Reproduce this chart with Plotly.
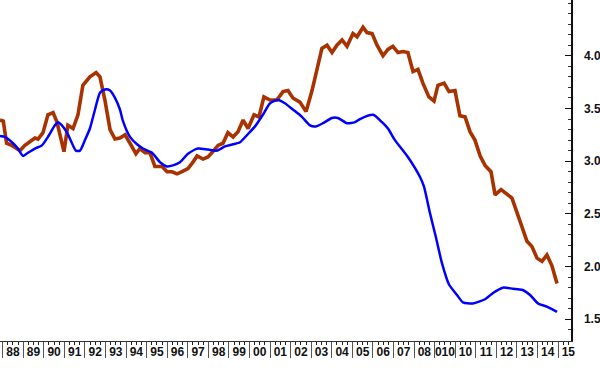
import plotly.graph_objects as go

# ---- data (decimal years, values) ----
red_x = [1987.87, 1988.03, 1988.19, 1988.44, 1988.68, 1988.84, 1989.08, 1989.41, 1989.57, 1989.72,
         1989.96, 1990.20, 1990.45, 1990.64, 1990.83, 1990.98, 1991.17, 1991.42, 1991.66, 1991.90,
         1992.24, 1992.54, 1992.73, 1992.97, 1993.22, 1993.46, 1993.70, 1993.95, 1994.19, 1994.48,
         1994.67, 1994.92, 1995.16, 1995.40, 1995.75, 1995.99, 1996.23, 1996.48, 1996.72, 1997.01,
         1997.25, 1997.45, 1997.74, 1997.98, 1998.22, 1998.47, 1998.71, 1998.95, 1999.20, 1999.44,
         1999.69, 1999.93, 2000.22, 2000.46, 2000.70, 2001.00, 2001.33, 2001.63, 2001.87, 2002.11,
         2002.45, 2002.75, 2003.04, 2003.28, 2003.52, 2003.77, 2004.01, 2004.25, 2004.50, 2004.74,
         2005.03, 2005.23, 2005.52, 2005.71, 2005.96, 2006.20, 2006.49, 2006.73, 2006.97, 2007.22,
         2007.46, 2007.70, 2007.95, 2008.19, 2008.43, 2008.72, 2008.97, 2009.16, 2009.46, 2009.70,
         2009.99, 2010.23, 2010.48, 2010.72, 2010.96, 2011.21, 2011.45, 2011.74, 2011.94, 2012.23,
         2012.47, 2012.76, 2013.01, 2013.25, 2013.49, 2013.73, 2013.98, 2014.22, 2014.46, 2014.70,
         2014.95]
red_y = [3.39, 3.38, 3.17, 3.15, 3.12, 3.10, 3.15, 3.20, 3.22, 3.21,
         3.27, 3.44, 3.46, 3.37, 3.20, 3.09, 3.34, 3.31, 3.44, 3.72,
         3.80, 3.84, 3.80, 3.58, 3.30, 3.21, 3.22, 3.25, 3.17, 3.07,
         3.12, 3.08, 3.08, 2.95, 2.95, 2.90, 2.90, 2.88, 2.90, 2.93,
         2.99, 3.05, 3.02, 3.04, 3.09, 3.15, 3.17, 3.27, 3.23, 3.28,
         3.39, 3.31, 3.44, 3.42, 3.61, 3.58, 3.58, 3.66, 3.67, 3.60,
         3.56, 3.47, 3.67, 3.89, 4.07, 4.10, 4.03, 4.10, 4.15, 4.09,
         4.21, 4.18, 4.27, 4.22, 4.21, 4.10, 4.00, 4.06, 4.09, 4.03,
         4.04, 4.03, 3.85, 3.87, 3.74, 3.61, 3.57, 3.72, 3.74, 3.66,
         3.67, 3.43, 3.42, 3.28, 3.20, 3.05, 2.96, 2.90, 2.68, 2.73,
         2.69, 2.65, 2.51, 2.38, 2.24, 2.19, 2.08, 2.05, 2.11, 2.01,
         1.84]

blue_x = [1987.87, 1988.11, 1988.45, 1988.70, 1988.99, 1989.23, 1989.57, 1989.91, 1990.20, 1990.54,
          1990.69, 1990.88, 1991.13, 1991.37, 1991.56, 1991.76, 1992.00, 1992.24, 1992.49, 1992.73,
          1992.97, 1993.22, 1993.46, 1993.70, 1993.85, 1994.19, 1994.53, 1994.82, 1995.26, 1995.65,
          1995.99, 1996.28, 1996.62, 1997.01, 1997.49, 1997.98, 1998.42, 1998.81, 1999.20, 1999.54,
          1999.89, 2000.27, 2000.65, 2001.00, 2001.38, 2001.72, 2002.11, 2002.55, 2002.94, 2003.23,
          2003.57, 2004.01, 2004.30, 2004.74, 2005.13, 2005.37, 2006.01, 2006.44, 2006.73, 2007.07,
          2007.70, 2008.29, 2008.48, 2008.77, 2009.06, 2009.36, 2009.70, 2010.09, 2010.38, 2010.86,
          2011.45, 2011.84, 2012.32, 2012.81, 2013.25, 2013.64, 2014.03, 2014.46, 2014.95]
blue_y = [3.24, 3.23, 3.18, 3.13, 3.05, 3.08, 3.12, 3.15, 3.23, 3.34,
          3.37, 3.34, 3.27, 3.17, 3.10, 3.10, 3.20, 3.31, 3.49, 3.65,
          3.68, 3.67, 3.60, 3.49, 3.38, 3.23, 3.16, 3.12, 3.08, 2.99,
          2.95, 2.96, 2.99, 3.07, 3.12, 3.11, 3.10, 3.14, 3.16, 3.18,
          3.25, 3.33, 3.44, 3.55, 3.58, 3.55, 3.49, 3.42, 3.34, 3.33,
          3.36, 3.41, 3.41, 3.36, 3.37, 3.40, 3.44, 3.37, 3.31, 3.20,
          3.04, 2.85, 2.76, 2.51, 2.28, 2.03, 1.83, 1.73, 1.66, 1.65,
          1.69, 1.75, 1.80, 1.79, 1.78, 1.73, 1.65, 1.62, 1.57]

years = list(range(1988, 2016))
year_labels = ["88", "89", "90", "91", "92", "93", "94", "95", "96", "97", "98", "99",
               "00", "01", "02", "03", "04", "05", "06", "07", "08", "010", "10", "11",
               "12", "13", "14", "15"]
y_ticks = [1.5, 2.0, 2.5, 3.0, 3.5, 4.0]

X_RANGE = [1987.87, 2015.63]
Y_RANGE = [1.294, 4.529]
FONT = dict(family="Liberation Sans, Arial, sans-serif", size=12, color="#111111")

fig = go.Figure()
fig.add_trace(go.Scatter(x=red_x, y=red_y, mode="lines",
                         line=dict(color="#A83200", width=3.6),
                         hoverinfo="skip", showlegend=False, xaxis="x", yaxis="y"))
fig.add_trace(go.Scatter(x=blue_x, y=blue_y, mode="lines",
                         line=dict(color="#0000FF", width=2.5, shape="spline", smoothing=0.6),
                         hoverinfo="skip", showlegend=False, xaxis="x2", yaxis="y"))

fig.update_layout(
    width=600, height=368,
    margin=dict(l=0, r=29, t=0, b=27, autoexpand=False),
    paper_bgcolor="white", plot_bgcolor="white",
    xaxis=dict(range=X_RANGE, autorange=False, showgrid=False, zeroline=False,
               showline=True, linecolor="#333333", linewidth=1,
               tickmode="array", tickvals=years, ticktext=[""] * len(years),
               ticks="outside", ticklen=16, tickwidth=1, tickcolor="#555555",
               minor=dict(tickmode="linear", tick0=1988, dtick=0.25, ticks="outside",
                          ticklen=3, tickwidth=1, tickcolor="#222222", showgrid=False)),
    xaxis2=dict(range=X_RANGE, autorange=False, overlaying="x", side="bottom", anchor="y",
                showgrid=False, zeroline=False, showline=False,
                tickmode="array", tickvals=[y + 0.5 for y in years], ticktext=year_labels,
                ticks="", tickfont=dict(FONT, weight="bold"), ticklabelstandoff=2),
    yaxis=dict(range=Y_RANGE, autorange=False, side="right", showgrid=False, zeroline=False,
               showline=True, linecolor="#111111", linewidth=1.5,
               tickmode="array", tickvals=y_ticks, ticktext=[f"{v:.1f}" for v in y_ticks],
               ticks="inside", ticklen=6, tickwidth=1, tickcolor="#111111",
               tickfont=dict(FONT, weight="bold"), ticklabelstandoff=9,
               minor=dict(tickmode="linear", tick0=1.5, dtick=0.1, ticks="inside",
                          ticklen=3, tickwidth=1, tickcolor="#333333", showgrid=False)),
)

fig.write_html("out.html", config={"displayModeBar": False, "staticPlot": True},
               post_script="document.body.style.margin='0';document.body.style.padding='0';")
